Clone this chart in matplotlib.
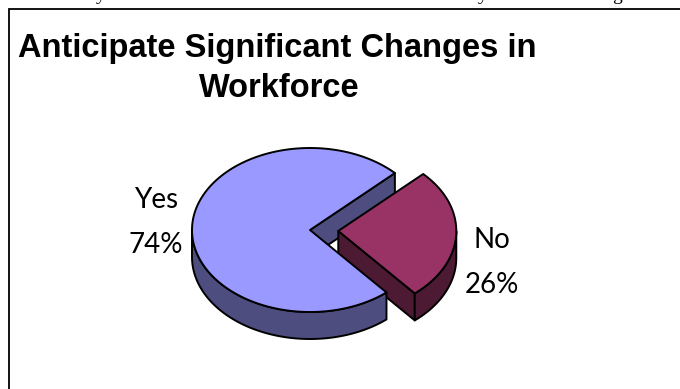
import numpy as np
import matplotlib
matplotlib.use("Agg")
import matplotlib.pyplot as plt
from matplotlib.patches import Polygon

# Survey answers and their shares (percent)
labels = ["Yes", "No"]
shares = [74, 26]
top_colors = ["#9999FF", "#993366"]
side_colors = ["#4D4D80", "#4D1A33"]
explode = [0.0, 0.24]

title_lines = ["Anticipate Significant Changes in", "Workforce"]

W, H = 680, 389
fig = plt.figure(figsize=(W / 100, H / 100), dpi=100)
ax = fig.add_axes([0, 0, 1, 1])
ax.set_xlim(0, W)
ax.set_ylim(H, 0)
ax.axis("off")

# page text running above the chart box (only its descenders show)
for ch, x in [("y", 101), ("y", 483), ("g", 617)]:
    ax.text(x, -0.5, ch, fontsize=14, family="Liberation Serif",
            ha="center", va="baseline", color="black", clip_on=True)

# chart box: left and top border
ax.plot([8.5, 8.5, W + 5], [H + 5, 8.5, 8.5], color="black", lw=1.3,
        solid_joinstyle="miter", clip_on=False)

# title
ax.text(18, 57, title_lines[0], fontsize=23.5, fontweight="bold",
        family="Liberation Sans", ha="left", va="baseline")
ax.text(279, 97, title_lines[1], fontsize=23.5, fontweight="bold",
        family="Liberation Sans", ha="center", va="baseline")

# 3-D pie geometry (pixel space)
cx, cy = 310.0, 230.0
rx, ry = 118.0, 82.0
depth = 27.0
start = 44.0  # degrees, slices run counter-clockwise from here
edge_kw = dict(edgecolor="black", linewidth=1.4, joinstyle="round")

fr = np.array(shares, float) / sum(shares)
bounds = start + 360.0 * np.concatenate([[0], np.cumsum(fr)])


def pt(t, ox, oy, dz=0.0):
    r = np.radians(t)
    return ox + rx * np.cos(r), oy - ry * np.sin(r) + dz


slices = []
for i in range(len(shares)):
    a0, a1 = bounds[i], bounds[i + 1]
    mid = np.radians((a0 + a1) / 2)
    ox = cx + explode[i] * rx * np.cos(mid)
    oy = cy - explode[i] * ry * np.sin(mid)
    slices.append((a0, a1, ox, oy))


def radial_face(t, ox, oy, color):
    px, py = pt(t, ox, oy)
    poly = [(ox, oy), (px, py), (px, py + depth), (ox, oy + depth)]
    ax.add_patch(Polygon(poly, closed=True, facecolor=color, **edge_kw))


def outer_side(a0, a1, ox, oy, color):
    # visible part of the rim is the front half (180..360 deg)
    segs = []
    for k in range(-1, 2):
        lo = max(a0, 180 + 360 * k)
        hi = min(a1, 360 + 360 * k)
        if hi > lo:
            segs.append((lo, hi))
    for lo, hi in segs:
        t = np.linspace(lo, hi, 120)
        xs, ys = pt(t, ox, oy)
        poly = np.column_stack([np.r_[xs, xs[::-1]], np.r_[ys, ys[::-1] + depth]])
        ax.add_patch(Polygon(poly, closed=True, facecolor=color, **edge_kw))


def top_face(a0, a1, ox, oy, color):
    t = np.linspace(a0, a1, 300)
    xs, ys = pt(t, ox, oy)
    poly = np.column_stack([np.r_[ox, xs], np.r_[oy, ys]])
    ax.add_patch(Polygon(poly, closed=True, facecolor=color, **edge_kw))


# back faces first, then exploded slice, then front rim and tops
a0, a1, ox, oy = slices[0]
radial_face(a0, ox, oy, side_colors[0])

b0, b1, bx, by = slices[1]
radial_face(b0, bx, by, side_colors[1])
outer_side(b0, b1, bx, by, side_colors[1])
top_face(b0, b1, bx, by, top_colors[1])

outer_side(a0, a1, ox, oy, side_colors[0])
top_face(a0, a1, ox, oy, top_colors[0])

# data labels
label_font = dict(fontsize=20, family="Lato", fontweight="normal", color="black",
                  ha="center", va="baseline")
label_pos = [(156, 208, 253), (492, 248, 293)]
for (lx, y1, y2), name, v in zip(label_pos, labels, shares):
    ax.text(lx, y1, name, **label_font)
    ax.text(lx, y2, f"{v}%", **label_font)

fig.savefig("out.png", dpi=100)
